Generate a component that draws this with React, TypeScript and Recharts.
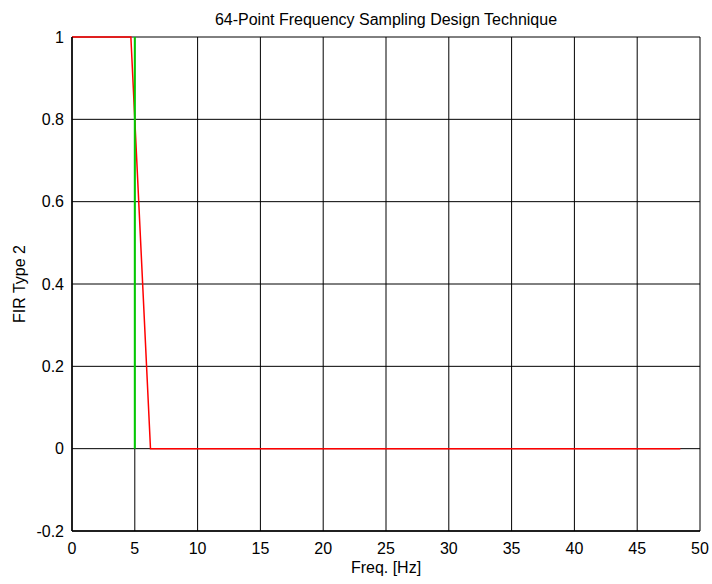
import { LineChart, Line, XAxis, YAxis, CartesianGrid } from 'recharts';

// 64-point frequency sampling, fs = 100 Hz -> bins every 1.5625 Hz
const binFreqs = [
  0, 1.5625, 3.125, 4.6875, 6.25, 7.8125, 9.375, 10.9375, 12.5, 14.0625, 15.625,
  17.1875, 18.75, 20.3125, 21.875, 23.4375, 25, 26.5625, 28.125, 29.6875, 31.25,
  32.8125, 34.375, 35.9375, 37.5, 39.0625, 40.625, 42.1875, 43.75, 45.3125, 46.875,
  48.4375,
];
const binGains = [
  1, 1, 1, 1, 0, 0, 0, 0, 0, 0, 0, 0, 0, 0, 0, 0, 0, 0, 0, 0, 0, 0, 0, 0, 0, 0, 0, 0,
  0, 0, 0, 0,
];

// ideal cutoff edge
const edgeFreqs = [5, 5];
const edgeGains = [0, 1];

const xTicks = [0, 5, 10, 15, 20, 25, 30, 35, 40, 45, 50];
const yTicks = [-0.2, 0, 0.2, 0.4, 0.6, 0.8, 1];

const sampled = binFreqs.map((f, i) => ({ f, v: binGains[i] }));
const ideal = edgeFreqs.map((f, i) => ({ f, v: edgeGains[i] }));

const font = 'Liberation Sans, Arial, sans-serif';
const fs = 16;

export default function App() {
  return (
    <div style={{ position: 'absolute', left: 0, top: 0, width: 712, height: 584, background: '#fff', fontFamily: font }}>
      <LineChart width={712} height={584} margin={{ top: 37, right: 12, bottom: 0, left: 0 }}>
        <CartesianGrid stroke="#000" strokeWidth={1} horizontalValues={yTicks} verticalValues={xTicks} />
        <XAxis
          type="number"
          dataKey="f"
          domain={[0, 50]}
          ticks={xTicks}
          height={53}
          tickSize={0}
          tickMargin={12}
          stroke="#000"
          strokeWidth={1.5}
          tick={{ fill: '#000', fontSize: fs, fontFamily: font }}
        />
        <YAxis
          type="number"
          domain={[-0.2, 1]}
          ticks={yTicks}
          width={72}
          tickSize={0}
          tickMargin={8}
          stroke="#000"
          strokeWidth={1.5}
          tick={{ fill: '#000', fontSize: fs, fontFamily: font }}
        />
        <Line data={sampled} dataKey="v" stroke="#ff0000" strokeWidth={1.5} dot={false} isAnimationActive={false} />
        <Line data={ideal} dataKey="v" stroke="#00cc00" strokeWidth={2} dot={false} isAnimationActive={false} />
        <text x={386} y={25} textAnchor="middle" fontSize={fs} fontFamily={font} fill="#000">
          64-Point Frequency Sampling Design Technique
        </text>
        <text x={386} y={573} textAnchor="middle" fontSize={fs} fontFamily={font} fill="#000">
          Freq. [Hz]
        </text>
        <text x={25} y={284} textAnchor="middle" fontSize={fs} fontFamily={font} fill="#000" transform="rotate(-90 25 284)">
          FIR Type 2
        </text>
      </LineChart>
    </div>
  );
}
